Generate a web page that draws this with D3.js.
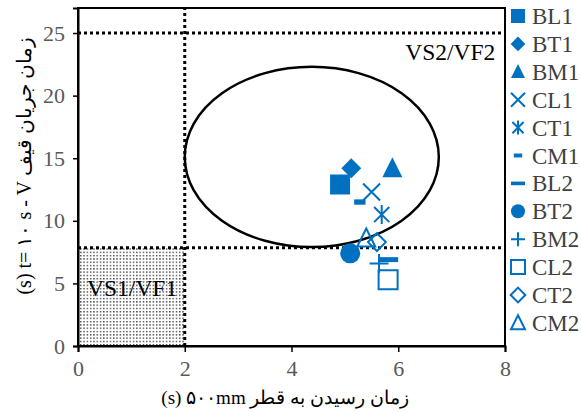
<!DOCTYPE html>
<html><head><meta charset="utf-8">
<script src="https://cdn.jsdelivr.net/npm/d3@7"></script>
<style>body{margin:0;background:#fff}svg{display:block}</style>
</head><body><svg id="c" width="581" height="412"></svg>
<script>
const categories = ["BL1","BT1","BM1","CL1","CT1","CM1","BL2","BT2","BM2","CL2","CT2","CM2"];
const xValues = [4.91, 5.12, 5.89, 5.50, 5.69, 5.28, 5.82, 5.10, 5.64, 5.81, 5.60, 5.40];
const yValues = [12.9, 14.2, 14.2, 12.3, 10.5, 11.5, 6.9, 7.4, 6.6, 5.3, 8.3, 8.6];
const markerShapes = ["square","diamond","triangle","x","asterisk","dashShort","dashLong","circle","plus","squareOpen","diamondOpen","triangleOpen"];
const xTicks = [0, 2, 4, 6, 8];
const yTicks = [0, 5, 10, 15, 20, 25];
const xTitle = "(s) ۵۰۰mm  زمان رسیدن به قطر";
const yTitle = "(s)  t= ۱۰ s - V  زمان جریان قیف";
const vs1Limits = {x: 2, y: 7.85};
const vs2Limit = 25;
const ellipseData = {cx: 4.38, cy: 15.1, rx: 2.38, ry: 7.2};
const zoneLabels = [{text: "VS2/VF2", x: 6.13, y: 22.85}, {text: "VS1/VF1", x: 0.17, y: 4.0}];

const svg = d3.select("#c");
const blue = "#0070C0";
const serif = "'Liberation Serif','Times New Roman',serif";
const m = {l: 78, r: 76, t: 8, b: 66};
const W = 581, H = 412;
const x = d3.scaleLinear().domain([0, 8]).range([m.l, W - m.r]);
const y = d3.scaleLinear().domain([0, 27]).range([H - m.b, m.t]);

// pattern
const defs = svg.append("defs");
const pat = defs.append("pattern").attr("id","dots").attr("patternUnits","userSpaceOnUse")
  .attr("width",3.3).attr("height",3.3);
pat.append("rect").attr("width",3.3).attr("height",3.3).attr("fill","#fff");
pat.append("rect").attr("x",0.9).attr("y",0.9).attr("width",1.3).attr("height",1.3).attr("fill","#222");

// shaded zone
svg.append("rect").attr("x", x(0)).attr("y", y(vs1Limits.y))
  .attr("width", x(vs1Limits.x) - x(0)).attr("height", y(0) - y(vs1Limits.y))
  .attr("fill","url(#dots)");

// dotted lines
const dot = {stroke:"#000", "stroke-width":3, "stroke-dasharray":"3,3"};
function dl(x1,y1,x2,y2){
  const l = svg.append("line").attr("x1",x1).attr("y1",y1).attr("x2",x2).attr("y2",y2);
  Object.entries(dot).forEach(([k,v])=>l.attr(k,v));
}
dl(x(0), y(vs2Limit), x(8), y(vs2Limit));
dl(x(0), y(vs1Limits.y), x(8), y(vs1Limits.y));
dl(x(vs1Limits.x), y(0), x(vs1Limits.x), y(27));

// ellipse
svg.append("ellipse").attr("cx", x(ellipseData.cx)).attr("cy", y(ellipseData.cy))
  .attr("rx", x(ellipseData.rx) - x(0)).attr("ry", y(0) - y(ellipseData.ry))
  .attr("fill","none").attr("stroke","#000").attr("stroke-width",2.5);

// zone labels
svg.selectAll("text.zone").data(zoneLabels).join("text").attr("class","zone")
  .attr("x", d => x(d.x)).attr("y", d => y(d.y))
  .attr("font-family", serif).attr("font-size", 23.5).attr("fill","#000")
  .text(d => d.text);

// frame
svg.append("rect").attr("x", x(0)).attr("y", y(27)).attr("width", x(8)-x(0)).attr("height", y(0)-y(27))
  .attr("fill","none").attr("stroke","#000").attr("stroke-width",2);

// axes
const xa = svg.append("g").attr("transform",`translate(0,${y(0)})`)
  .call(d3.axisBottom(x).tickValues(xTicks).tickSize(6).tickPadding(8).tickFormat(d3.format("d")));
const ya = svg.append("g").attr("transform",`translate(${x(0)},0)`)
  .call(d3.axisLeft(y).tickValues(yTicks).tickSize(5).tickPadding(8).tickFormat(d3.format("d")));
[xa, ya].forEach(a => {
  a.select(".domain").attr("stroke","#000").attr("stroke-width",2);
  a.selectAll(".tick line").attr("stroke","#000").attr("stroke-width",1.5);
  a.selectAll(".tick text").attr("font-family", serif).attr("font-size", 22).attr("fill","#595959");
});

// titles
svg.append("text").attr("x", 285).attr("y", 404).attr("text-anchor","middle")
  .attr("direction","ltr").attr("font-family", serif).attr("font-size", 19).attr("fill","#000").text(xTitle);
svg.append("text").attr("transform",`translate(31,${166}) rotate(-90)`).attr("text-anchor","middle")
  .attr("direction","ltr").attr("font-family", serif).attr("font-size", 20).attr("fill","#000").text(yTitle);

// marker shape builder
function shapePath(t, s){
  const h = s/2;
  switch(t){
    case "square": case "squareOpen": return `M${-h},${-h}h${s}v${s}h${-s}Z`;
    case "diamond": case "diamondOpen": { const r = h*1.05; return `M0,${-r}L${r},0L0,${r}L${-r},0Z`; }
    case "triangle": case "triangleOpen": return `M0,${-s*0.55}L${h},${s*0.45}L${-h},${s*0.45}Z`;
    case "x": return `M${-h},${-h}L${h},${h}M${h},${-h}L${-h},${h}`;
    case "asterisk": return `M${-h*0.8},${-h*0.8}L${h*0.8},${h*0.8}M${h*0.8},${-h*0.8}L${-h*0.8},${h*0.8}M0,${-h}L0,${h}`;
    case "plus": return `M${-h},0L${h},0M0,${-h}L0,${h}`;
    case "dashShort": return `M${-s*0.3},${-s*0.14}h${s*0.6}v${s*0.28}h${-s*0.6}Z`;
    case "dashLong": return `M${-h},${-s*0.13}h${s}v${s*0.26}h${-s}Z`;
    case "circle": return d3.symbol(d3.symbolCircle, Math.PI*h*h)();
  }
}
const filled = t => ["square","diamond","triangle","dashShort","dashLong","circle"].includes(t);
function styleMarker(sel, t){
  if (filled(t)) sel.attr("fill", blue).attr("stroke","none");
  else sel.attr("fill","none").attr("stroke", blue).attr("stroke-width", 2);
}
const sizes = {square:20, diamond:19, triangle:20, x:17, asterisk:19, dashShort:19, dashLong:19, circle:20, plus:19, squareOpen:19, diamondOpen:17, triangleOpen:18};

const pts = categories.map((c,i)=>({c, x:xValues[i], y:yValues[i], t:markerShapes[i]}));
pts.forEach(p => {
  const e = svg.append("path").attr("d", shapePath(p.t, sizes[p.t]))
    .attr("transform", `translate(${x(p.x)},${y(p.y)})`);
  styleMarker(e, p.t);
});

// legend
const lg = svg.append("g");
categories.forEach((c,i) => {
  const cy = 16 + i*27.9;
  const t = markerShapes[i];
  const e = lg.append("path").attr("d", shapePath(t, 14)).attr("transform",`translate(518,${cy})`);
  styleMarker(e, t);
  lg.append("text").attr("x", 532).attr("y", cy + 8).attr("font-family", serif).attr("font-size", 23)
    .attr("fill","#404040").text(c);
});
</script></body></html>
